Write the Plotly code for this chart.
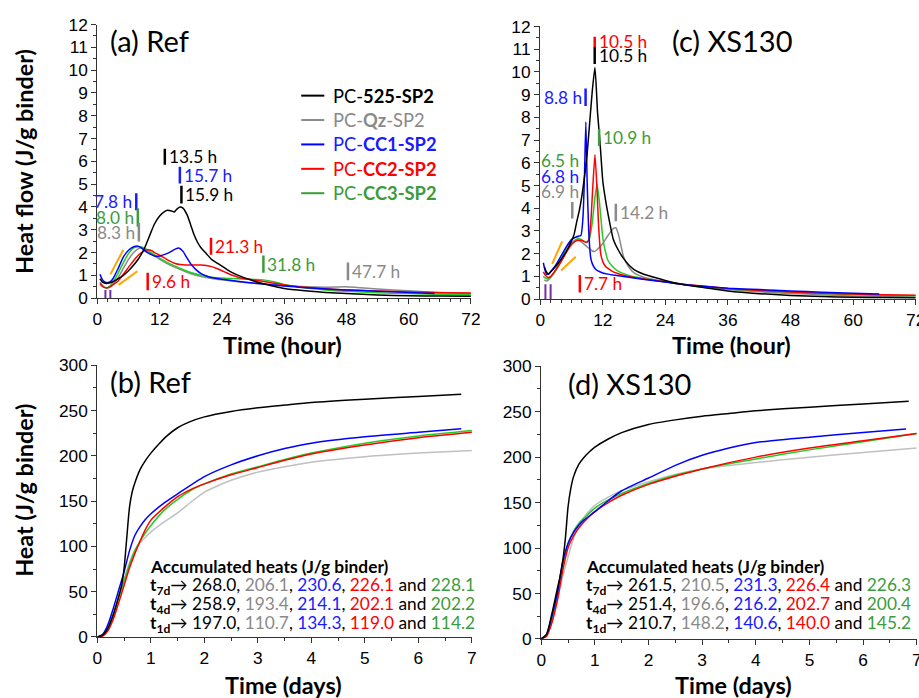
import plotly.graph_objects as go

# output picture size and the page size used to draw it
W, H = 919, 698
WF, HF = 940, 712
# measured page->picture mapping of the photographing step (picture = S * page + OFF)
SX, SY, OFFX, OFFY = 0.98, 0.984, 5.0, 2.3

# ------------------------------------------------------------------ DATA
series_names = ["525", "Qz", "CC1", "CC2", "CC3"]

# (a) Ref - heat flow (J/g binder) vs time (h)
t_a_525 = [0.5, 1, 1.5, 2, 3, 4, 5, 6, 7, 8, 9, 10, 11, 12, 13, 13.5, 14.3, 14.8, 15.3, 15.9, 16.5, 17.3, 18, 18.6, 19.3, 20, 21, 22, 23, 24, 25, 26, 28, 30, 32, 34, 36, 40, 44, 48, 54, 60, 66, 72]
q_a_525 = [0.85, 0.7, 0.65, 0.65, 0.72, 0.85, 1.0, 1.2, 1.45, 1.75, 2.15, 2.7, 3.25, 3.6, 3.8, 3.85, 3.82, 3.78, 3.9, 4.0, 3.95, 3.65, 3.2, 2.8, 2.45, 2.2, 1.95, 1.7, 1.55, 1.4, 1.25, 1.12, 0.92, 0.76, 0.63, 0.52, 0.42, 0.32, 0.25, 0.2, 0.14, 0.1, 0.09, 0.08]
t_a_qz = [0.5, 1, 1.5, 2, 2.5, 3, 4, 5, 6, 7, 8, 8.5, 9, 10, 11, 12, 14, 16, 18, 20, 22, 24, 27, 30, 33, 36, 40, 44, 47.7, 50, 54, 60, 66, 72]
q_a_qz = [0.7, 0.55, 0.47, 0.45, 0.5, 0.6, 0.9, 1.3, 1.7, 2.0, 2.18, 2.2, 2.15, 2.0, 1.85, 1.7, 1.45, 1.25, 1.07, 0.95, 0.86, 0.8, 0.72, 0.66, 0.6, 0.55, 0.5, 0.48, 0.5, 0.47, 0.4, 0.32, 0.25, 0.2]
t_a_cc1 = [0.5, 1, 1.5, 2, 2.5, 3, 4, 5, 6, 7, 7.8, 8.5, 9, 10, 11, 12, 13, 14, 15, 15.7, 16.5, 17.3, 18, 19, 20, 21, 22, 24, 27, 30, 33, 36, 40, 44, 48, 54, 60, 65]
q_a_cc1 = [1.05, 0.8, 0.7, 0.68, 0.72, 0.85, 1.3, 1.8, 2.1, 2.25, 2.28, 2.2, 2.1, 1.95, 1.85, 1.85, 1.92, 2.02, 2.15, 2.2, 2.05, 1.75, 1.5, 1.25, 1.07, 0.97, 0.9, 0.83, 0.74, 0.66, 0.6, 0.53, 0.46, 0.4, 0.36, 0.3, 0.25, 0.2]
t_a_cc2 = [0.5, 1, 1.5, 2, 2.5, 3, 4, 5, 6, 7, 8, 9, 9.6, 10.5, 11, 12, 13, 14, 15, 16, 17, 18, 19, 20, 21, 22, 23, 24, 25, 26, 27, 28, 30, 33, 36, 40, 44, 48, 54, 60, 66, 72]
q_a_cc2 = [0.65, 0.52, 0.46, 0.45, 0.5, 0.58, 0.75, 1.05, 1.35, 1.65, 1.9, 2.07, 2.12, 2.08, 2.0, 1.88, 1.75, 1.62, 1.52, 1.47, 1.45, 1.45, 1.45, 1.45, 1.43, 1.38, 1.3, 1.2, 1.1, 1.0, 0.93, 0.87, 0.8, 0.7, 0.58, 0.48, 0.41, 0.36, 0.31, 0.27, 0.24, 0.22]
t_a_cc3 = [0.5, 1, 1.5, 2, 2.5, 3, 4, 5, 6, 7, 8, 9, 10, 11, 12, 14, 16, 18, 20, 22, 24, 26, 28, 30, 32, 34, 36, 38, 40, 44, 48, 54, 60, 66, 72]
q_a_cc3 = [0.6, 0.5, 0.45, 0.47, 0.55, 0.7, 1.1, 1.55, 1.95, 2.2, 2.25, 2.2, 2.05, 1.9, 1.75, 1.5, 1.3, 1.12, 1.0, 0.92, 0.88, 0.86, 0.84, 0.82, 0.8, 0.72, 0.6, 0.52, 0.45, 0.36, 0.3, 0.24, 0.2, 0.17, 0.15]

# (c) XS130 - heat flow vs time (h)
t_c_525 = [0.8, 1.2, 1.6, 2, 3, 4, 5, 6, 6.5, 7, 7.5, 8, 8.5, 9, 9.5, 10, 10.5, 11, 11.5, 12, 12.5, 13, 14, 15, 16, 17, 18, 20, 22, 24, 27, 30, 36, 42, 48, 54, 60, 66, 72]
q_c_525 = [1.4, 1.2, 1.1, 1.2, 1.45, 1.75, 2.1, 2.55, 2.85, 3.4, 3.9, 4.55, 5.4, 6.4, 7.8, 9.2, 10.2, 8.2, 6.8, 5.2, 4.4, 3.75, 2.65, 2.15, 1.78, 1.5, 1.3, 1.08, 0.95, 0.82, 0.66, 0.55, 0.36, 0.24, 0.16, 0.11, 0.08, 0.07, 0.06]
t_c_qz = [0.8, 1.2, 1.6, 2, 3, 4, 5, 6, 6.9, 8, 9, 10, 10.5, 11, 12, 13, 14, 14.5, 15, 16, 17, 18, 20, 22, 24, 28, 32, 36, 42, 48, 54, 60, 66, 72]
q_c_qz = [0.85, 0.8, 0.85, 0.95, 1.25, 1.65, 2.1, 2.45, 2.62, 2.5, 2.3, 2.12, 2.1, 2.2, 2.45, 2.8, 3.1, 3.14, 2.85, 1.85, 1.4, 1.15, 0.95, 0.85, 0.76, 0.62, 0.5, 0.42, 0.32, 0.25, 0.19, 0.14, 0.11, 0.09]
t_c_cc1 = [0.6, 0.9, 1.2, 1.6, 2, 3, 4, 5, 6, 7, 7.8, 8.2, 8.5, 8.75, 9.0, 9.3, 9.7, 10, 10.5, 11, 12, 13, 14, 16, 18, 20, 24, 28, 32, 36, 42, 48, 54, 60, 65]
q_c_cc1 = [1.6, 1.3, 1.1, 1.1, 1.2, 1.5, 1.9, 2.3, 2.62, 2.75, 2.8, 3.6, 5.5, 7.8, 5.2, 3.0, 1.8, 1.55, 1.35, 1.25, 1.15, 1.1, 1.06, 1.0, 0.93, 0.86, 0.75, 0.63, 0.55, 0.48, 0.42, 0.36, 0.3, 0.26, 0.22]
t_c_cc2 = [0.6, 1, 1.5, 2, 3, 4, 5, 6, 7, 8, 8.8, 9.3, 9.7, 10.1, 10.5, 10.9, 11.2, 11.6, 12, 12.5, 13, 14, 15, 16, 18, 20, 24, 28, 32, 36, 42, 48, 54, 60, 66, 72]
q_c_cc2 = [1.2, 1.05, 0.95, 1.0, 1.3, 1.65, 2.05, 2.4, 2.58, 2.58, 2.5, 2.6, 3.4, 5.0, 6.35, 4.8, 3.2, 2.0, 1.65, 1.45, 1.35, 1.2, 1.12, 1.05, 0.95, 0.88, 0.76, 0.64, 0.55, 0.47, 0.38, 0.31, 0.26, 0.22, 0.19, 0.17]
t_c_cc3 = [0.6, 1, 1.5, 2, 3, 4, 5, 6, 6.5, 7, 8, 9, 9.5, 10, 10.5, 10.9, 11.3, 11.7, 12, 12.5, 13, 14, 15, 16, 18, 20, 24, 28, 32, 36, 42, 48, 54, 60, 66, 72]
q_c_cc3 = [1.0, 0.92, 0.88, 0.95, 1.3, 1.75, 2.25, 2.62, 2.7, 2.7, 2.6, 2.5, 2.7, 3.4, 4.5, 5.05, 4.4, 3.4, 2.7, 2.1, 1.7, 1.4, 1.22, 1.12, 0.98, 0.9, 0.75, 0.63, 0.53, 0.45, 0.37, 0.3, 0.25, 0.2, 0.17, 0.15]

# (b) Ref - accumulated heat (J/g binder) vs time (days)
d_b_525 = [0, 0.1, 0.2, 0.3, 0.4, 0.45, 0.5, 0.55, 0.6, 0.65, 0.7, 0.8, 0.9, 1.0, 1.15, 1.3, 1.5, 1.7, 2.0, 2.5, 3.0, 3.5, 4.0, 5.0, 6.0, 6.8]
h_b_525 = [0, 2, 10, 25, 45, 56, 76, 110, 143, 160, 170, 185, 195, 203, 213, 222, 231, 237, 243, 249, 253, 256, 258.9, 262.5, 265.5, 268]
d_b = [0, 0.1, 0.2, 0.3, 0.4, 0.5, 0.6, 0.7, 0.8, 0.9, 1.0, 1.25, 1.5, 1.75, 2.0, 2.5, 3.0, 3.5, 4.0, 5.0, 6.0, 7.0]
h_b_qz = [0, 2, 11, 27, 45, 64, 82, 96, 104, 110, 116, 127, 137, 149, 160, 173, 182, 188, 193, 199, 203, 206]
h_b_cc2 = [0, 1, 7, 20, 38, 57, 76, 92, 106, 119, 129, 143, 155, 163, 169, 179, 187, 195, 202, 212, 220, 226]
h_b_cc3 = [0, 2, 10, 25, 43, 62, 80, 95, 106, 115, 123, 140, 152, 162, 169, 180, 188, 196, 203, 214, 222, 228]
d_b_cc1 = [0, 0.1, 0.2, 0.3, 0.4, 0.5, 0.6, 0.7, 0.8, 0.9, 1.0, 1.25, 1.5, 2.0, 2.5, 3.0, 3.5, 4.0, 5.0, 6.0, 6.8]
h_b_cc1 = [0, 3, 14, 32, 52, 72, 95, 112, 122, 130, 136, 148, 158, 177, 190, 200, 208, 214, 221, 226, 230]

# (d) XS130 - accumulated heat vs time (days)
d_d_525 = [0, 0.1, 0.2, 0.3, 0.35, 0.4, 0.45, 0.5, 0.55, 0.6, 0.7, 0.8, 0.9, 1.0, 1.25, 1.5, 2.0, 2.5, 3.0, 3.5, 4.0, 5.0, 6.0, 6.85]
h_d_525 = [0, 5, 28, 55, 68, 85, 110, 145, 165, 178, 192, 200, 206, 211, 220, 227, 236, 241, 245, 248, 251, 255, 258.5, 261.5]
d_d = [0, 0.1, 0.2, 0.3, 0.4, 0.5, 0.6, 0.7, 0.8, 1.0, 1.25, 1.5, 2.0, 2.5, 3.0, 4.0, 5.0, 6.0, 7.0]
h_d_qz = [0, 3, 18, 42, 68, 90, 110, 125, 134, 147, 156, 163, 173, 181, 187, 194, 200, 205, 210]
h_d_cc2 = [0, 3, 18, 42, 75, 100, 113, 122, 129, 140, 150, 158, 170, 179, 187, 200, 210, 218, 226]
h_d_cc3 = [0, 4, 22, 48, 80, 105, 118, 127, 133, 144, 153, 160, 171, 180, 187, 198, 208, 217, 226]
d_d_cc1 = [0, 0.1, 0.2, 0.3, 0.4, 0.5, 0.6, 0.7, 0.8, 1.0, 1.25, 1.5, 2.0, 2.5, 3.0, 3.5, 4.0, 5.0, 6.0, 6.8]
h_d_cc1 = [0, 5, 25, 50, 85, 105, 117, 125, 131, 140, 152, 163, 177, 191, 202, 210, 216, 222, 227, 231]

# accumulated heat tables (525, Qz, CC1, CC2, CC3)
ref_7d = ["268.0", "206.1", "230.6", "226.1", "228.1"]
ref_4d = ["258.9", "193.4", "214.1", "202.1", "202.2"]
ref_1d = ["197.0", "110.7", "134.3", "119.0", "114.2"]
xs_7d = ["261.5", "210.5", "231.3", "226.4", "226.3"]
xs_4d = ["251.4", "196.6", "216.2", "202.7", "200.4"]
xs_1d = ["210.7", "148.2", "140.6", "140.0", "145.2"]

# peak markers: time position, bar bottom, bar top, label, series index, label side
ref_mark_t = [13.0, 15.9, 16.2, 7.5, 7.8, 8.0, 21.9, 32.0, 48.3, 9.7]
ref_mark_lo = [5.85, 5.03, 4.15, 3.85, 3.13, 2.48, 1.9, 1.11, 0.78, 0.35]
ref_mark_hi = [6.55, 5.76, 4.93, 4.6, 3.94, 3.29, 2.65, 1.87, 1.56, 1.11]
ref_mark_lab = ["13.5 h", "15.7 h", "15.9 h", "7.8 h", "8.0 h", "8.3 h", "21.3 h", "31.8 h", "47.7 h", "9.6 h"]
ref_mark_ser = [0, 2, 0, 2, 4, 1, 3, 4, 1, 3]
ref_mark_side = ["r", "r", "r", "l", "l", "l", "r", "r", "r", "r"]

xs_mark_t = [10.45, 10.45, 8.7, 11.3, 14.5, 7.6, 6.15]
xs_mark_lo = [11.1, 10.35, 8.5, 6.74, 3.43, 0.29, 3.55]
xs_mark_hi = [11.55, 11.1, 9.27, 7.49, 4.2, 1.06, 4.27]
xs_mark_lab = ["10.5 h", "10.5 h", "8.8 h", "10.9 h", "14.2 h", "7.7 h", ""]
xs_mark_ser = [3, 0, 2, 4, 1, 3, 1]
xs_mark_side = ["r", "r", "l", "r", "r", "r", "r"]
# stacked labels without own bar (c)
xs_stack_lab = ["6.5 h", "6.8 h", "6.9 h"]
xs_stack_ser = [4, 2, 1]
xs_stack_t = [7.75, 7.75, 7.75]
xs_stack_y = [6.12, 5.4, 4.75]

# induction-period guides
ref_purple_t = [1.55, 2.5]
ref_purple_top = 0.36
xs_purple_t = [1.0, 2.0]
xs_purple_top = 0.65
ref_orange = [((2.5, 1.04), (5.0, 2.12)), ((4.1, 0.58), (7.7, 1.18))]
xs_orange = [((2.3, 1.55), (4.2, 2.54)), ((4.0, 1.26), (6.8, 1.86))]

# ------------------------------------------------------------------ STYLE
line_col = ["#000000", "#8a8a8a", "#0000ff", "#ff0000", "#22cc22"]
line_col_cum = ["#000000", "#c0c0c0", "#0000ff", "#ff0000", "#22cc22"]
text_col = ["#000000", "#8a8a8a", "#1a1aff", "#ff0000", "#3c9b3c"]
legend_line_col = ["#000000", "#8a8a8a", "#0000ff", "#ff0000", "#3c9b3c"]
PURPLE = "#7030a0"
ORANGE = "#ffa500"
TXT_FONT = "Lato"
TICK_FONT = "Liberation Sans"
FS = 1 / ((SX + SY) / 2)   # font compensation

legend_names = [
    "PC-<b>525-SP2</b>",
    "PC-<b>Qz</b>-SP2",
    "PC-<b>CC1-SP2</b>",
    "PC-<b>CC2-SP2</b>",
    "PC-<b>CC3-SP2</b>",
]


def px(x):
    """picture x pixel -> paper fraction"""
    return ((x - OFFX) / SX) / WF


def py(y):
    """picture y pixel (from top) -> paper fraction"""
    return 1 - ((y - OFFY) / SY) / HF


def fsz(s):
    return round(s * FS, 2)


fig = go.Figure()

flow_a = [(t_a_525, q_a_525), (t_a_qz, q_a_qz), (t_a_cc1, q_a_cc1), (t_a_cc2, q_a_cc2), (t_a_cc3, q_a_cc3)]
flow_c = [(t_c_525, q_c_525), (t_c_qz, q_c_qz), (t_c_cc1, q_c_cc1), (t_c_cc2, q_c_cc2), (t_c_cc3, q_c_cc3)]
cum_b = [(d_b_525, h_b_525), (d_b, h_b_qz), (d_b_cc1, h_b_cc1), (d_b, h_b_cc2), (d_b, h_b_cc3)]
cum_d = [(d_d_525, h_d_525), (d_d, h_d_qz), (d_d_cc1, h_d_cc1), (d_d, h_d_cc2), (d_d, h_d_cc3)]

draw_order = [1, 4, 3, 2, 0]
for panel, data, cols, xa, ya, sm in [("a", flow_a, line_col, "x", "y", 0.6), ("c", flow_c, line_col, "x2", "y2", 0.5),
                                      ("b", cum_b, line_col_cum, "x3", "y3", 0.6), ("d", cum_d, line_col_cum, "x4", "y4", 0.6)]:
    for i in draw_order:
        x, y = data[i]
        fig.add_trace(go.Scatter(x=x, y=y, mode="lines",
                                 line=dict(color=cols[i], width=1.5, shape="spline", smoothing=sm),
                                 name="PC-" + series_names[i] + "-SP2", showlegend=False, xaxis=xa, yaxis=ya))

shapes = []
annotations = []

# legend (line samples + labels, panel a)
LEG_X0, LEG_X1, LEG_TX, LEG_Y0, LEG_DY = 300, 323, 330, 89, 24.7
for i, name in enumerate(legend_names):
    yc = py(LEG_Y0 + LEG_DY * i)
    shapes.append(dict(type="line", xref="paper", yref="paper", x0=px(LEG_X0), x1=px(LEG_X1), y0=yc, y1=yc,
                       line=dict(color=legend_line_col[i], width=2)))
    annotations.append(dict(xref="paper", yref="paper", x=px(LEG_TX), y=yc, xanchor="left", yanchor="middle",
                            text=name, showarrow=False, font=dict(family=TXT_FONT, size=fsz(18), color=text_col[i])))


def add_marks(xr, yr, ts, los, his, labs, sers, sides):
    for t, lo, hi, lab, s, side in zip(ts, los, his, labs, sers, sides):
        shapes.append(dict(type="line", xref=xr, yref=yr, x0=t, x1=t, y0=lo, y1=hi,
                           line=dict(color=text_col[s], width=2.5)))
        if lab:
            annotations.append(dict(xref=xr, yref=yr, x=t, y=(lo + hi) / 2, text=lab, showarrow=False,
                                    xanchor="left" if side == "r" else "right",
                                    xshift=2 if side == "r" else -2, yanchor="middle",
                                    font=dict(family=TXT_FONT, size=fsz(17), color=text_col[s])))


add_marks("x", "y", ref_mark_t, ref_mark_lo, ref_mark_hi, ref_mark_lab, ref_mark_ser, ref_mark_side)
add_marks("x2", "y2", xs_mark_t, xs_mark_lo, xs_mark_hi, xs_mark_lab, xs_mark_ser, xs_mark_side)
for lab, s, t, y in zip(xs_stack_lab, xs_stack_ser, xs_stack_t, xs_stack_y):
    annotations.append(dict(xref="x2", yref="y2", x=t, y=y, text=lab, showarrow=False, xanchor="right",
                            yanchor="middle", font=dict(family=TXT_FONT, size=fsz(17), color=text_col[s])))

for xr, yr, pts, top in [("x", "y", ref_purple_t, ref_purple_top), ("x2", "y2", xs_purple_t, xs_purple_top)]:
    for t in pts:
        shapes.append(dict(type="line", xref=xr, yref=yr, x0=t, x1=t, y0=0, y1=top, line=dict(color=PURPLE, width=2)))
for xr, yr, segs in [("x", "y", ref_orange), ("x2", "y2", xs_orange)]:
    for (p0, p1) in segs:
        shapes.append(dict(type="line", xref=xr, yref=yr, x0=p0[0], y0=p0[1], x1=p1[0], y1=p1[1],
                           line=dict(color=ORANGE, width=2)))


def table(x_left, y_head, rows):
    annotations.append(dict(xref="paper", yref="paper", x=px(x_left), y=py(y_head), xanchor="left", yanchor="middle",
                            text="<b>Accumulated heats (J/g binder)</b>", showarrow=False,
                            font=dict(family=TXT_FONT, size=fsz(17), color="black")))
    for k, (sub, vals) in enumerate(rows):
        parts = [f"<span style='color:{text_col[i]}'>{v}</span>" for i, v in enumerate(vals)]
        txt = f"<b>t<sub>{sub}</sub></b>\u2192 " + ", ".join(parts[:4]) + " and " + parts[4]
        annotations.append(dict(xref="paper", yref="paper", x=px(x_left), y=py(y_head + 19.2 * (k + 1)),
                                xanchor="left", yanchor="middle", text=txt, showarrow=False,
                                font=dict(family=TXT_FONT, size=fsz(17), color="black")))


table(147, 566, [("7d", ref_7d), ("4d", ref_4d), ("1d", ref_1d)])
table(582, 566, [("7d", xs_7d), ("4d", xs_4d), ("1d", xs_1d)])

# panel titles
for txt, x0, yc in [("(a) Ref", 108, 33), ("(c) XS130", 667, 33), ("(b) Ref", 108, 378), ("(d) XS130", 564, 380)]:
    annotations.append(dict(xref="paper", yref="paper", x=px(x0), y=py(yc), xanchor="left", yanchor="middle",
                            text=txt, showarrow=False, font=dict(family=TXT_FONT, size=fsz(28.5), color="black")))

# axis titles
for txt, xc, yc, ang in [("Heat flow (J/g binder)", 24, 156, -90), ("Heat (J/g binder)", 24, 489, -90),
                         ("Time (hour)", 281, 341, 0), ("Time (hour)", 729, 341, 0),
                         ("Time (days)", 282, 686, 0), ("Time (days)", 731, 686, 0)]:
    annotations.append(dict(xref="paper", yref="paper", x=px(xc), y=py(yc), xanchor="center", yanchor="middle",
                            text=f"<b>{txt}</b>", textangle=ang, showarrow=False,
                            font=dict(family=TXT_FONT, size=fsz(23), color="black")))


def axis(domain, rng, dtick, minor_dtick, anchor):
    return dict(domain=domain, range=rng, dtick=dtick, tick0=0, anchor=anchor, showline=True, linecolor="#333",
                linewidth=1.3, ticks="outside", ticklen=5, tickwidth=1.2, tickcolor="#333", showgrid=False,
                zeroline=False, mirror=False, fixedrange=True,
                tickfont=dict(family=TICK_FONT, size=fsz(17), color="black"),
                minor=dict(ticks="outside", ticklen=3, tickwidth=1, tickcolor="#333", dtick=minor_dtick, showgrid=False))


def xdom(a, b):
    return [px(a), px(b)]


def ydom(top, bot):
    return [py(bot), py(top)]


fig.update_layout(
    width=WF, height=HF, margin=dict(l=0, r=0, t=0, b=0),
    paper_bgcolor="white", plot_bgcolor="white",
    xaxis=axis(xdom(97, 469), [0, 72], 12, 2, "y"),
    yaxis=axis(ydom(17, 294), [0, 12], 1, 0.5, "x"),
    xaxis2=axis(xdom(538, 912), [0, 72], 12, 2, "y2"),
    yaxis2=axis(ydom(19, 295), [0, 12], 1, 0.5, "x2"),
    xaxis3=axis(xdom(97, 470), [0, 7], 1, 0.5, "y3"),
    yaxis3=axis(ydom(362, 637), [0, 300], 50, 25, "x3"),
    xaxis4=axis(xdom(539, 913), [0, 7], 1, 0.5, "y4"),
    yaxis4=axis(ydom(363, 639), [0, 300], 50, 25, "x4"),
    showlegend=False,
    shapes=shapes, annotations=annotations,
)

fig.write_html(
    "out.html",
    config={"displayModeBar": False, "responsive": False},
    post_script=("document.documentElement.style.margin='0px';document.body.style.margin='0px';"
                 "document.documentElement.style.overflow='hidden';document.body.style.overflow='hidden';"),
)
